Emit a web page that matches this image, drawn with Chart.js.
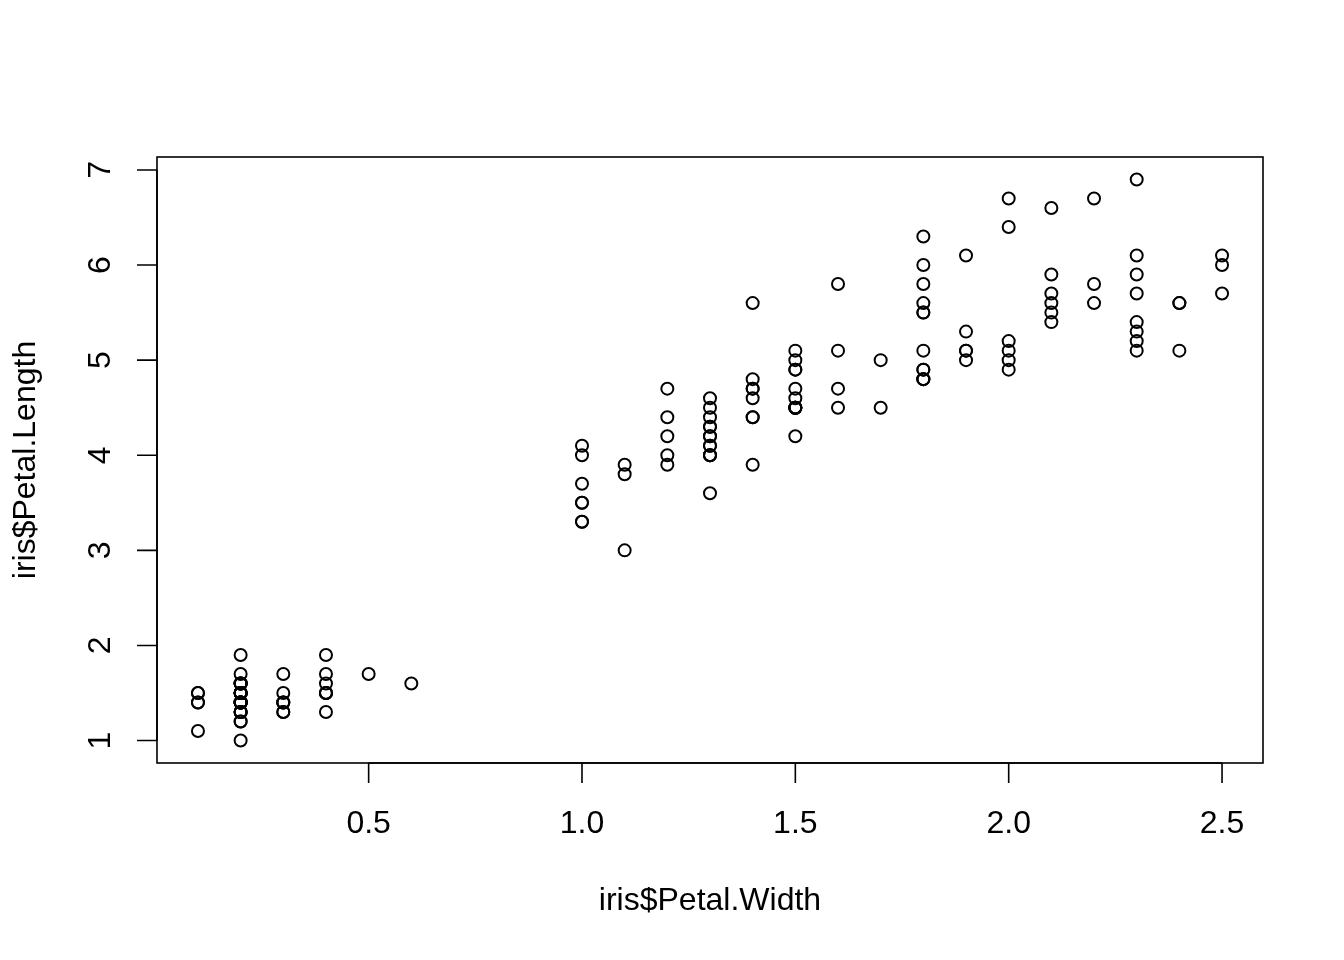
<!DOCTYPE html>
<html>
<head>
<meta charset="utf-8">
<script src="https://cdn.jsdelivr.net/npm/chart.js@4/dist/chart.umd.min.js"></script>
<style>
  html, body { margin: 0; padding: 0; background: #fff; }
  #wrap { width: 1344px; height: 960px; }
</style>
</head>
<body>
<div id="wrap"><canvas id="c" width="1344" height="960"></canvas></div>
<script>
// iris petal measurements
const petalWidth = [
  0.2,0.2,0.2,0.2,0.2,0.4,0.3,0.2,0.2,0.1,0.2,0.2,0.1,0.1,0.2,0.4,0.4,0.3,0.3,0.3,
  0.2,0.4,0.2,0.5,0.2,0.2,0.4,0.2,0.2,0.2,0.2,0.4,0.1,0.2,0.2,0.2,0.2,0.1,0.2,0.2,
  0.3,0.3,0.2,0.6,0.4,0.3,0.2,0.2,0.2,0.2,
  1.4,1.5,1.5,1.3,1.5,1.3,1.6,1.0,1.3,1.4,1.0,1.5,1.0,1.4,1.3,1.4,1.5,1.0,1.5,1.1,
  1.8,1.3,1.5,1.2,1.3,1.4,1.4,1.7,1.5,1.0,1.1,1.0,1.2,1.6,1.5,1.6,1.5,1.3,1.3,1.3,
  1.2,1.4,1.2,1.0,1.3,1.2,1.3,1.3,1.1,1.3,
  2.5,1.9,2.1,1.8,2.2,2.1,1.7,1.8,1.8,2.5,2.0,1.9,2.1,2.0,2.4,2.3,1.8,2.2,2.3,1.5,
  2.3,2.0,2.0,1.8,2.1,1.8,1.8,1.8,2.1,1.6,1.9,2.0,2.2,1.5,1.4,2.3,2.4,1.8,1.8,2.1,
  2.4,2.3,1.9,2.3,2.5,2.3,1.9,2.0,2.3,1.8
]
const petalLength = [
  1.4,1.4,1.3,1.5,1.4,1.7,1.4,1.5,1.4,1.5,1.5,1.6,1.4,1.1,1.2,1.5,1.3,1.4,1.7,1.5,
  1.7,1.5,1.0,1.7,1.9,1.6,1.6,1.5,1.4,1.6,1.6,1.5,1.5,1.4,1.5,1.2,1.3,1.4,1.3,1.5,
  1.3,1.3,1.3,1.6,1.9,1.4,1.6,1.4,1.5,1.4,
  4.7,4.5,4.9,4.0,4.6,4.5,4.7,3.3,4.6,3.9,3.5,4.2,4.0,4.7,3.6,4.4,4.5,4.1,4.5,3.9,
  4.8,4.0,4.9,4.7,4.3,4.4,4.8,5.0,4.5,3.5,3.8,3.7,3.9,5.1,4.5,4.5,4.7,4.4,4.1,4.0,
  4.4,4.6,4.0,3.3,4.2,4.2,4.2,4.3,3.0,4.1,
  6.0,5.1,5.9,5.6,5.8,6.6,4.5,6.3,5.8,6.1,5.1,5.3,5.5,5.0,5.1,5.3,5.5,6.7,6.9,5.0,
  5.7,4.9,6.7,4.9,5.7,6.0,4.8,4.9,5.6,5.8,6.1,6.4,5.6,5.1,5.6,6.1,5.6,5.5,4.8,5.4,
  5.6,5.1,5.1,5.9,5.7,5.2,5.0,5.2,5.4,5.1
]
const xTicks = [0.5, 1.0, 1.5, 2.0, 2.5]
const xTickLabels = ['0.5', '1.0', '1.5', '2.0', '2.5']
const yTicks = [1, 2, 3, 4, 5, 6, 7]
const yTickLabels = ['1', '2', '3', '4', '5', '6', '7']
const xTitle = 'iris$Petal.Width'
const yTitle = 'iris$Petal.Length'

const points = petalWidth.map((w, i) => ({ x: w, y: petalLength[i] }))

// R style base-graphics axes, drawn from the chart's own scales
const baseAxes = {
  id: 'baseAxes',
  afterDraw(chart) {
    const ctx = chart.ctx
    const area = chart.chartArea
    const xs = chart.scales.x
    const ys = chart.scales.y
    const font = '32px "Liberation Sans", Arial, sans-serif'
    ctx.save()
    ctx.strokeStyle = '#000'
    ctx.fillStyle = '#000'
    ctx.lineWidth = 1.6
    ctx.strokeRect(area.left, area.top, area.right - area.left, area.bottom - area.top)

    // x axis
    const x0 = xs.getPixelForValue(xTicks[0])
    const x1 = xs.getPixelForValue(xTicks[xTicks.length - 1])
    ctx.beginPath()
    ctx.moveTo(x0, area.bottom)
    ctx.lineTo(x1, area.bottom)
    xTicks.forEach(v => {
      const px = xs.getPixelForValue(v)
      ctx.moveTo(px, area.bottom)
      ctx.lineTo(px, area.bottom + 20)
    })
    ctx.stroke()
    ctx.font = font
    ctx.textAlign = 'center'
    ctx.textBaseline = 'middle'
    xTicks.forEach((v, i) => {
      ctx.fillText(xTickLabels[i], xs.getPixelForValue(v), 824)
    })
    ctx.fillText(xTitle, (area.left + area.right) / 2, 901)

    // y axis
    const y0 = ys.getPixelForValue(yTicks[0])
    const y1 = ys.getPixelForValue(yTicks[yTicks.length - 1])
    ctx.beginPath()
    ctx.moveTo(area.left, y0)
    ctx.lineTo(area.left, y1)
    yTicks.forEach(v => {
      const py = ys.getPixelForValue(v)
      ctx.moveTo(area.left, py)
      ctx.lineTo(area.left - 20, py)
    })
    ctx.stroke()
    yTicks.forEach((v, i) => {
      ctx.save()
      ctx.translate(101, ys.getPixelForValue(v))
      ctx.rotate(-Math.PI / 2)
      ctx.fillText(yTickLabels[i], 0, 0)
      ctx.restore()
    })
    ctx.save()
    ctx.translate(26, (area.top + area.bottom) / 2)
    ctx.rotate(-Math.PI / 2)
    ctx.fillText(yTitle, 0, 0)
    ctx.restore()
    ctx.restore()
  }
}

new Chart(document.getElementById('c'), {
  type: 'scatter',
  data: {
    datasets: [{
      data: points,
      pointStyle: 'circle',
      pointRadius: 6,
      pointBorderWidth: 2,
      pointBorderColor: '#000',
      pointBackgroundColor: 'rgba(0,0,0,0)',
      clip: false
    }]
  },
  options: {
    responsive: false,
    animation: false,
    devicePixelRatio: 1,
    layout: { padding: { left: 157, right: 81, top: 157, bottom: 197 } },
    plugins: { legend: { display: false }, tooltip: { enabled: false } },
    scales: {
      x: { type: 'linear', min: 0.004, max: 2.596, display: false },
      y: { type: 'linear', min: 0.764, max: 7.136, display: false }
    }
  },
  plugins: [baseAxes]
})
</script>
</body>
</html>
